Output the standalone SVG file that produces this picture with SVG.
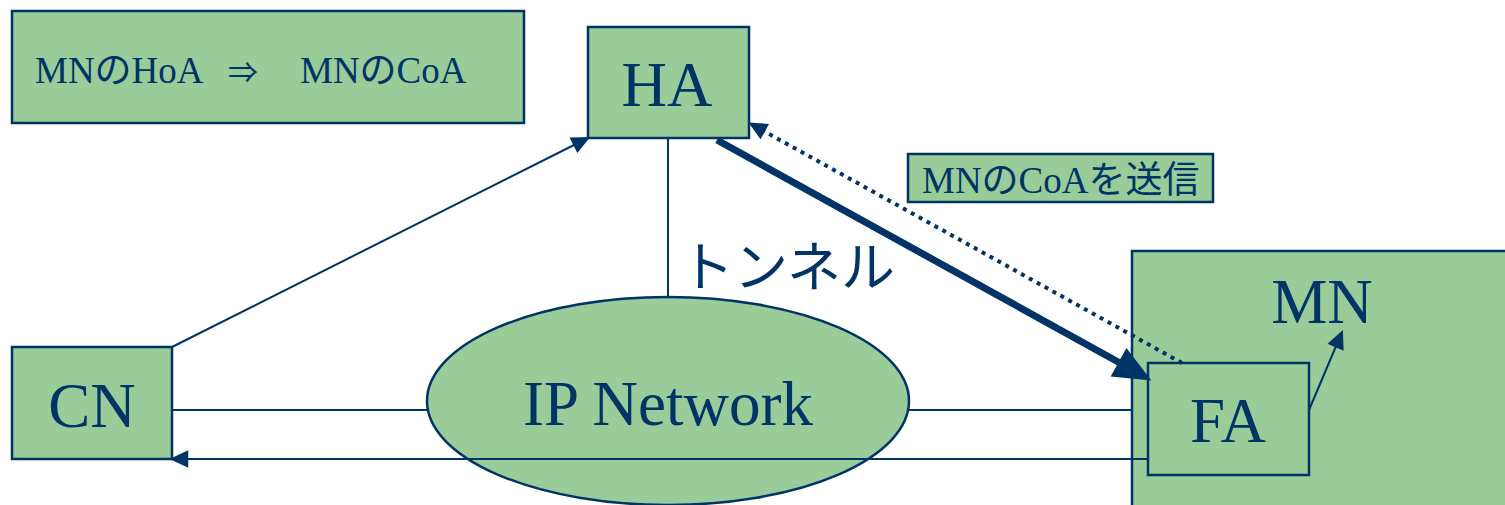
<svg xmlns="http://www.w3.org/2000/svg" width="1505" height="505" viewBox="0 0 1505 505">
<style>
.box{fill:#99CC99;stroke:#003366;stroke-width:2.5}
.lbl{fill:#003366;font-family:"Liberation Serif","Noto Sans CJK JP",serif}
.big{font-size:63px;text-anchor:middle}
.ln{stroke:#003366;stroke-width:2;fill:none}
</style>
<defs>
<marker id="ahBig" markerUnits="userSpaceOnUse" markerWidth="40" markerHeight="40" refX="10" refY="0" orient="auto" viewBox="0 -15 32 30" overflow="visible"><path d="M0,-13 L30,0 L0,13 z" fill="#003366"/></marker>
<marker id="ahDot" markerUnits="userSpaceOnUse" markerWidth="20" markerHeight="20" refX="3" refY="0" orient="auto" viewBox="0 -8 16 16" overflow="visible"><path d="M0,-7 L15,0 L0,7 z" fill="#003366"/></marker>
<marker id="ahSm" markerUnits="userSpaceOnUse" markerWidth="20" markerHeight="20" refX="5" refY="0" orient="auto" viewBox="0 -8 16 16" overflow="visible"><path d="M0,-7 L15,0 L0,7 z" fill="#003366"/></marker>
</defs>
<rect width="1505" height="505" fill="#ffffff"/>
<g id="note">
<rect class="box" x="12" y="11" width="512" height="112"/>
<text class="lbl" x="35" y="83" font-size="37">MNのHoA</text>
<text class="lbl" x="228" y="83" font-size="30" font-family="DejaVu Sans, sans-serif">⇒</text>
<text class="lbl" x="300" y="83" font-size="37">MNのCoA</text>
</g>
<g id="HA">
<rect class="box" x="588" y="27" width="161" height="111"/>
<text class="lbl big" x="667" y="106">HA</text>
</g>
<g id="msg">
<rect class="box" x="908" y="154" width="305" height="48"/>
<text class="lbl" x="922" y="193" font-size="37">MNのCoAを送信</text>
</g>
<g id="MN">
<rect class="box" x="1132" y="251" width="390" height="270"/>
<text class="lbl big" x="1322" y="323" font-size="62">MN</text>
</g>
<g id="FA">
<rect class="box" x="1148" y="363" width="161" height="112"/>
<text class="lbl big" x="1228" y="442">FA</text>
</g>
<g id="CN">
<rect class="box" x="12" y="347" width="160" height="112"/>
<text class="lbl big" x="92" y="427">CN</text>
</g>
<g id="IPNetwork">
<ellipse cx="668" cy="401" rx="241" ry="104" fill="#99CC99" stroke="#003366" stroke-width="2.5"/>
<text class="lbl big" x="668" y="425" font-size="64">IP Network</text>
</g>
<g id="tunnelLabel">
<text x="680" y="287" font-size="54" fill="#003366" font-family="Noto Sans CJK JP, sans-serif">トンネル</text>
</g>
<g id="connectors">
<line class="ln" x1="668" y1="138" x2="668" y2="297"/>
<line class="ln" x1="172" y1="410" x2="427" y2="410"/>
<line class="ln" x1="909" y1="410" x2="1132" y2="410"/>
<line class="ln" x1="1148" y1="459" x2="182" y2="459" marker-end="url(#ahSm)"/>
<line class="ln" x1="172" y1="347" x2="579" y2="142.5" marker-end="url(#ahSm)"/>
<line class="ln" x1="1309" y1="410" x2="1338" y2="341.5" marker-end="url(#ahSm)"/>
<line x1="717" y1="140" x2="1129.5" y2="368.3" stroke="#003366" stroke-width="7" marker-end="url(#ahBig)"/>
<line x1="1182" y1="363" x2="761.5" y2="129.8" stroke="#003366" stroke-width="4" stroke-dasharray="4 5" marker-end="url(#ahDot)"/>
</g>
</svg>
